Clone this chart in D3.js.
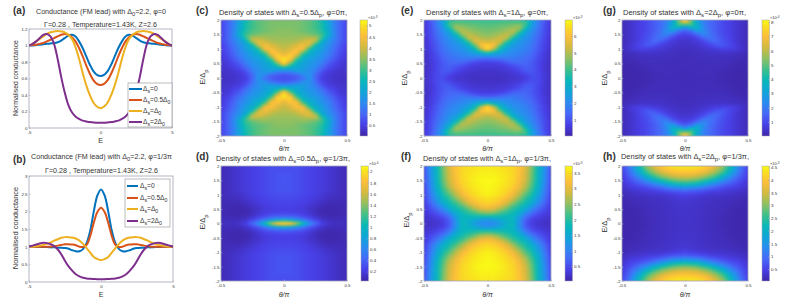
<!DOCTYPE html>
<html><head><meta charset="utf-8">
<script src="https://cdn.jsdelivr.net/npm/d3@7/dist/d3.min.js"></script>
<style>html,body{margin:0;padding:0;background:#fff}svg{display:block}text{font-family:"Liberation Sans",Arial,sans-serif;fill:#333}</style>
</head><body><svg id="c" width="795" height="300"></svg>
<script>
// ---------- DATA ----------
const energyHalf=[0,.25,.5,.75,1,1.25,1.5,1.75,2,2.25,2.5,2.75,3,3.25,3.5,3.75,4,4.25,4.5,4.75,5];
const condA0=[.63,.645,.69,.77,.87,.97,1.05,1.11,1.13,1.12,1.09,1.06,1.04,1.03,1.025,1.02,1.015,1.01,1.005,1,1];
const condA1=[.52,.535,.58,.66,.76,.87,.97,1.05,1.10,1.13,1.14,1.13,1.11,1.09,1.07,1.05,1.03,1.02,1.01,1.005,1];
const condA2=[.24,.26,.31,.40,.52,.67,.84,.98,1.08,1.13,1.16,1.17,1.175,1.17,1.16,1.14,1.11,1.08,1.05,1.02,1];
const condA3=[.065,.065,.068,.072,.08,.09,.11,.14,.19,.28,.43,.62,.84,1.02,1.11,1.14,1.13,1.09,1.05,1.02,1];
const condB0=[2.62,2.45,2.0,1.45,1.1,.93,.87,.87,.9,.94,.96,.97,.97,.98,.98,.99,.99,.995,1,1,1];
const condB1=[2.1,1.98,1.68,1.3,1.05,.99,1,1.04,1.06,1.07,1.07,1.05,1.03,1.01,1,1,1,1,1,1,1];
const condB2=[.62,.65,.71,.83,.96,1.08,1.17,1.23,1.26,1.27,1.27,1.25,1.21,1.17,1.12,1.08,1.05,1.03,1.01,1,1];
const condB3=[.08,.08,.085,.09,.10,.12,.16,.22,.32,.44,.60,.78,.92,1.02,1.07,1.10,1.11,1.09,1.06,1.03,1];
const legendA=[["Δ","s","=0"],["Δ","s","=0.5Δ","0"],["Δ","s","=Δ","0"],["Δ","s","=2Δ","0"]];
const lineColors=["#0072BD","#D95319","#EDB120","#7E2F8E"];
const thetaHalf=[0,.05,.1,.15,.2,.25,.3,.35,.4,.45,.5];
const energyRows=[2,1.875,1.75,1.625,1.5,1.375,1.25,1.125,1,.875,.75,.625,.5,.375,.25,.125,0];
const dosC=[
[3.4,3.4,3.4,3.3,3.2,3.0,2.6,2.0,1.4,.9,.6],
[3.4,3.4,3.4,3.3,3.2,3.0,2.7,2.1,1.4,.9,.6],
[3.4,3.4,3.4,3.3,3.2,3.0,2.7,2.1,1.4,.9,.6],
[3.5,3.5,3.4,3.3,3.2,3.1,2.8,2.2,1.4,.9,.6],
[3.5,3.5,3.5,3.5,3.4,3.2,3.0,2.3,1.5,.9,.6],
[3.6,3.6,3.6,3.7,3.8,3.9,3.0,1.9,1.4,.9,.6],
[3.7,3.7,3.8,4.0,4.3,3.7,2.2,1.7,1.3,.9,.6],
[3.8,3.9,4.1,4.5,4.0,2.5,2.0,1.6,1.2,.8,.5],
[3.9,4.1,4.5,4.4,2.9,2.2,1.9,1.5,1.1,.7,.5],
[4.1,4.4,4.7,3.2,2.4,2.0,1.7,1.4,1.0,.7,.4],
[4.5,4.9,3.8,2.5,2.1,1.9,1.6,1.3,.9,.6,.4],
[5.2,4.5,2.8,2.2,1.9,1.7,1.5,1.1,.8,.5,.4],
[4.8,3.3,2.3,2.0,1.8,1.6,1.3,.9,.6,.4,.3],
[2.8,2.4,2.1,1.9,1.7,1.5,1.1,.7,.5,.4,.3],
[1.6,1.7,1.9,1.8,1.6,1.3,.8,.5,.4,.3,.3],
[.8,.9,1.1,1.6,1.7,1.1,.6,.4,.3,.3,.25],
[.7,.7,.8,1.0,1.7,1.0,.5,.4,.3,.25,.2]];
const dosD=[
[.3,.3,.3,.28,.25,.22,.2,.17,.14,.1,.08],
[.3,.3,.3,.28,.25,.22,.2,.17,.14,.1,.08],
[.32,.32,.3,.28,.25,.22,.2,.17,.14,.1,.08],
[.33,.32,.3,.28,.25,.22,.2,.17,.14,.1,.08],
[.33,.32,.3,.28,.25,.22,.2,.17,.14,.1,.08],
[.33,.32,.3,.28,.25,.22,.2,.17,.14,.1,.08],
[.33,.32,.3,.28,.25,.22,.2,.17,.14,.1,.08],
[.32,.32,.3,.28,.25,.22,.2,.16,.13,.1,.08],
[.3,.3,.29,.27,.24,.21,.18,.14,.12,.1,.08],
[.28,.28,.27,.25,.22,.19,.16,.12,.1,.09,.07],
[.26,.26,.25,.23,.2,.16,.12,.09,.08,.08,.07],
[.24,.24,.23,.21,.17,.13,.09,.06,.06,.07,.07],
[.22,.22,.21,.19,.15,.1,.06,.05,.05,.06,.07],
[.25,.25,.24,.21,.16,.1,.06,.05,.05,.06,.07],
[.38,.37,.34,.29,.22,.14,.08,.06,.06,.07,.08],
[.85,.8,.68,.52,.36,.25,.15,.1,.09,.09,.09],
[2.05,1.95,1.6,1.1,.7,.45,.25,.15,.12,.1,.1]];
const dosE=[
[3.9,3.9,3.9,3.9,3.9,3.9,3.6,2.6,1.8,1.0,.5],
[4.1,4.1,4.2,4.2,4.3,4.3,4.1,2.6,1.7,1.0,.5],
[4.3,4.3,4.4,4.5,4.7,4.9,3.6,2.3,1.6,.9,.5],
[4.4,4.5,4.6,4.8,5.1,4.3,2.8,2.1,1.5,.9,.5],
[4.6,4.7,4.9,5.2,4.7,3.2,2.4,1.9,1.4,.9,.5],
[4.9,5.0,5.3,5.2,3.5,2.6,2.2,1.8,1.3,.8,.4],
[5.3,5.5,5.5,3.8,2.8,2.3,2.0,1.7,1.2,.8,.4],
[6.4,6.0,4.2,3.0,2.4,2.1,1.9,1.6,1.1,.7,.4],
[6.5,5.0,3.3,2.6,2.2,2.0,1.8,1.5,1.1,.7,.4],
[3.6,3.0,2.6,2.2,2.0,1.8,1.7,1.4,1.0,.6,.3],
[2.1,2.1,2.0,1.9,1.8,1.7,1.5,1.3,.9,.6,.3],
[1.0,1.1,1.3,1.5,1.6,1.5,1.4,1.2,.85,.55,.3],
[.65,.65,.7,.9,1.2,1.3,1.3,1.1,.8,.5,.3],
[.5,.5,.55,.6,.8,1.0,1.2,1.1,.8,.5,.3],
[.4,.4,.45,.5,.6,.8,1.1,1.1,.8,.5,.3],
[.35,.35,.35,.4,.5,.55,.8,1.0,.85,.55,.3],
[.3,.3,.3,.35,.4,.45,.55,.9,.85,.55,.3]];
const dosF=[
[3.6,3.6,3.55,3.5,3.45,3.25,2.95,2.4,1.75,1.2,.55],
[3.62,3.62,3.58,3.52,3.45,3.25,2.92,2.38,1.72,1.18,.52],
[3.65,3.65,3.6,3.55,3.45,3.25,2.9,2.35,1.7,1.15,.5],
[3.68,3.68,3.62,3.55,3.45,3.22,2.88,2.32,1.7,1.12,.5],
[3.7,3.7,3.65,3.55,3.45,3.2,2.85,2.3,1.7,1.1,.5],
[3.7,3.68,3.62,3.52,3.4,3.12,2.75,2.22,1.65,1.05,.48],
[3.7,3.65,3.6,3.5,3.35,3.05,2.65,2.15,1.6,1.0,.45],
[3.68,3.62,3.55,3.42,3.22,2.88,2.45,2.02,1.5,.95,.42],
[3.65,3.6,3.5,3.35,3.1,2.7,2.25,1.9,1.4,.9,.4],
[3.55,3.5,3.38,3.18,2.85,2.45,2.05,1.75,1.28,.82,.38],
[3.45,3.4,3.25,3.0,2.6,2.2,1.9,1.6,1.15,.75,.35],
[3.3,3.2,3.0,2.65,2.25,1.95,1.75,1.35,.95,.6,.32],
[3.0,2.9,2.6,2.3,2.0,1.8,1.5,1.05,.75,.5,.3],
[2.5,2.4,2.2,2.0,1.85,1.6,1.15,.8,.55,.4,.28],
[1.9,1.9,1.85,1.8,1.75,1.35,.85,.55,.4,.3,.25],
[1.2,1.3,1.5,1.7,1.75,1.2,.65,.4,.3,.25,.2],
[1.05,1.1,1.3,1.6,1.8,1.15,.6,.35,.25,.2,.18]];
const dosG=[
[8.0,5.0,3.0,2.1,1.6,1.3,1.0,.8,.6,.4,.25],
[5.5,5.0,3.2,2.1,1.6,1.3,1.0,.8,.6,.4,.25],
[2.8,3.8,3.6,2.2,1.6,1.3,1.0,.8,.6,.4,.25],
[1.4,1.8,2.9,2.4,1.7,1.3,1.0,.8,.6,.4,.25],
[.8,1.0,1.6,2.3,1.8,1.4,1.1,.8,.6,.4,.25],
[.6,.65,.9,1.5,1.9,1.5,1.1,.9,.6,.4,.25],
[.45,.5,.65,.9,1.4,1.6,1.2,.9,.6,.4,.25],
[.38,.4,.5,.65,.85,1.2,1.3,1.0,.7,.45,.25],
[.32,.35,.4,.5,.6,.7,.8,.8,.7,.5,.25],
[.28,.3,.33,.38,.42,.45,.45,.42,.35,.3,.2],
[.25,.27,.3,.33,.35,.35,.35,.32,.28,.22,.16],
[.24,.25,.27,.28,.3,.3,.3,.28,.2,.16,.12],
[.23,.24,.25,.26,.27,.27,.26,.22,.15,.12,.1],
[.22,.23,.24,.25,.25,.25,.22,.17,.12,.1,.08],
[.22,.22,.23,.24,.24,.22,.18,.14,.1,.08,.07],
[.21,.22,.22,.23,.22,.2,.15,.11,.09,.07,.06],
[.21,.21,.22,.22,.21,.18,.13,.1,.08,.07,.06]];
const dosH=[
[4.4,4.4,4.35,4.2,3.95,3.6,3.1,2.4,1.7,1.0,.5],
[4.2,4.2,4.1,4.0,3.7,3.3,2.85,2.2,1.55,.9,.5],
[3.9,3.9,3.8,3.6,3.3,2.95,2.5,1.9,1.35,.8,.45],
[3.5,3.45,3.35,3.1,2.85,2.45,2.0,1.5,1.05,.7,.4],
[2.95,2.9,2.75,2.5,2.2,1.85,1.45,1.1,.8,.55,.35],
[2.3,2.2,2.1,1.8,1.5,1.2,.95,.75,.6,.45,.3],
[1.5,1.4,1.3,1.1,.9,.75,.6,.5,.45,.35,.25],
[.8,.75,.7,.6,.5,.45,.4,.35,.3,.25,.2],
[.5,.45,.4,.35,.3,.3,.28,.25,.22,.18,.12],
[.36,.34,.3,.26,.24,.22,.2,.18,.16,.13,.1],
[.32,.3,.27,.24,.22,.2,.18,.16,.13,.11,.09],
[.3,.28,.26,.23,.21,.19,.17,.14,.11,.09,.08],
[.29,.27,.25,.22,.2,.18,.16,.12,.09,.08,.07],
[.28,.26,.24,.22,.2,.18,.15,.11,.08,.07,.07],
[.27,.26,.24,.22,.2,.17,.14,.1,.08,.07,.06],
[.27,.25,.23,.21,.19,.17,.13,.09,.07,.06,.06],
[.26,.25,.23,.21,.19,.16,.12,.09,.07,.06,.06]];
const paletteStops=[0,.1,.19,.29,.38,.48,.57,.67,.76,.86,.95,1];
const paletteColors=["#3e26a8","#4840e8","#4668f8","#2a8cf0","#10a5d8","#08b8b8","#3cc08c","#90c060","#d0ba40","#fcbe3a","#f9e020","#f9fb15"];
// ---------- PANELS ----------
const svg=d3.select("#c");
const defs=svg.append("defs");
const axisCol="#a4a4b8", txt="#333";
function rich(sel,parts,small){
  parts.forEach((p,i)=>{ if(p==="")return;
    const isSub=i%2===1;
    const t=sel.append("tspan").text(p);
    if(isSub){t.attr("dy",small*.35).attr("font-size",small*.8);}
    else if(i>0){t.attr("dy",-small*.35);}
  });
}
function title(x1,x2,y,parts,fs){
  const t=svg.append("text").attr("x",x1).attr("y",y).attr("font-size",fs).attr("fill",txt);
  rich(t,parts,fs);
  t.attr("textLength",x2-x1).attr("lengthAdjust","spacingAndGlyphs");
}
function panelLabel(x,y,s){svg.append("text").attr("x",x).attr("y",y).attr("font-size",10).attr("font-weight","bold").attr("font-family","'Open Sans',sans-serif").attr("fill","#222").text(s);}
function styleAxis(g){g.selectAll("path,line").attr("stroke",axisCol).attr("stroke-width",.6);g.selectAll("text").attr("font-size",4.4).attr("fill","#444");}
const fmt=d=>String(d);
function box(p){
  svg.append("rect").attr("x",p.x0).attr("y",p.y0).attr("width",p.x1-p.x0).attr("height",p.y1-p.y0).attr("fill","none").attr("stroke",axisCol).attr("stroke-width",.8);
}
function linePanel(p){
  const x=d3.scaleLinear().domain([-5,5]).range([p.x0,p.x1]);
  const y=d3.scaleLinear().domain(p.dom).range([p.y1,p.y0]);
  const energy=[...energyHalf.slice(1).reverse().map(d=>-d),...energyHalf];
  const clip="cl"+p.id;
  defs.append("clipPath").attr("id",clip).append("rect").attr("x",p.x0).attr("y",p.y0).attr("width",p.x1-p.x0).attr("height",p.y1-p.y0);
  const line=d3.line().x((d,i)=>x(energy[i])).y(d=>y(d)).curve(d3.curveCatmullRom);
  box(p);
  p.series.forEach((s,k)=>{
    const v=[...s.slice(1).reverse(),...s];
    svg.append("path").attr("clip-path",`url(#${clip})`).attr("d",line(v)).attr("fill","none").attr("stroke",lineColors[k]).attr("stroke-width",2);
  });
  const ax=svg.append("g").attr("transform",`translate(0,${p.y1})`).call(d3.axisBottom(x).tickValues([-5,0,5]).tickSize(-1.5).tickPadding(2.5).tickFormat(fmt));
  ax.select(".domain").remove();styleAxis(ax);
  const ay=svg.append("g").attr("transform",`translate(${p.x0},0)`).call(d3.axisLeft(y).tickValues(p.ticks).tickSize(-1.5).tickPadding(1.5).tickFormat(fmt));
  ay.select(".domain").remove();styleAxis(ay);
  svg.append("text").attr("x",(p.x0+p.x1)/2).attr("y",p.xlabY).attr("text-anchor","middle").attr("font-size",7).text("E");
  svg.append("text").attr("transform",`translate(${p.ylabX},${p.ylabC}) rotate(-90)`).attr("text-anchor","middle").attr("font-size",p.ylabFs).text("Normalised conductance");
  const L=p.legend;
  svg.append("rect").attr("x",L.x0).attr("y",L.y0).attr("width",L.x1-L.x0).attr("height",L.y1-L.y0).attr("fill","#fff").attr("stroke","#777").attr("stroke-width",.5);
  legendA.forEach((parts,k)=>{
    const yy=L.ys[k];
    svg.append("line").attr("x1",L.lx0).attr("x2",L.lx1).attr("y1",yy).attr("y2",yy).attr("stroke",lineColors[k]).attr("stroke-width",2);
    const t=svg.append("text").attr("x",L.tx).attr("y",yy+2).attr("font-size",6.6);
    rich(t,parts,6.6);
  });
}
function heat(p){
  const x=d3.scaleLinear().domain([-.5,.5]).range([p.x0,p.x1]);
  const y=d3.scaleLinear().domain([-2,2]).range([p.y1,p.y0]);
  const t=d3.scaleLinear().domain([p.min,p.max]).range([0,1]).clamp(true);
  const pal=d3.scaleLinear().domain(paletteStops).range(paletteColors);
  const c=v=>pal(t(v));
  const thetas=[...thetaHalf.slice(1).reverse().map(d=>-d),...thetaHalf];
  const rowsUp=[...energyRows.slice(0,-1).map(d=>-d),...energyRows.slice().reverse()];
  const gridDown=[...p.data,...p.data.slice(0,-1).reverse()].map(r=>[...r.slice(1).reverse(),...r]);
  const gridUp=gridDown.slice().reverse();
  const cl="hc"+p.id,fl="hf"+p.id;
  defs.append("clipPath").attr("id",cl).append("rect").attr("x",p.x0).attr("y",p.y0).attr("width",p.x1-p.x0).attr("height",p.y1-p.y0);
  defs.append("filter").attr("id",fl).attr("filterUnits","userSpaceOnUse").attr("x",p.x0-10).attr("y",p.y0-10).attr("width",p.x1-p.x0+20).attr("height",p.y1-p.y0+20)
    .attr("color-interpolation-filters","sRGB").append("feGaussianBlur").attr("stdDeviation",p.blur||"1.1 .9");
  const outer=svg.append("g").attr("clip-path",`url(#${cl})`);
  const g=outer.append("g").attr("filter",`url(#${fl})`).attr("shape-rendering","crispEdges");
  // surface shaded across each grid cell, like MATLAB "shading interp"
  const step=2, pad=6;
  const sample=(th,en)=>{
    th=Math.max(-.5,Math.min(.5,th));en=Math.max(-2,Math.min(2,en));
    let i=Math.min(thetas.length-2,Math.max(0,d3.bisectRight(thetas,th)-1));
    let j=Math.min(rowsUp.length-2,Math.max(0,d3.bisectRight(rowsUp,en)-1));
    const u=(th-thetas[i])/(thetas[i+1]-thetas[i]),w=(en-rowsUp[j])/(rowsUp[j+1]-rowsUp[j]);
    const a=d3.interpolateNumber(gridUp[j][i],gridUp[j][i+1])(u),b=d3.interpolateNumber(gridUp[j+1][i],gridUp[j+1][i+1])(u);
    return d3.interpolateNumber(a,b)(w);
  };
  for(let px=p.x0-pad;px<p.x1+pad;px+=step)for(let py=p.y0-pad;py<p.y1+pad;py+=step){
    g.append("rect").attr("x",px).attr("y",py).attr("width",step).attr("height",step).attr("fill",c(sample(x.invert(px+step/2),y.invert(py+step/2))));
  }
  box(p);
  const ax=svg.append("g").attr("transform",`translate(0,${p.y1})`).call(d3.axisBottom(x).tickValues([-.5,0,.5]).tickSize(-1.5).tickPadding(3).tickFormat(fmt));
  ax.select(".domain").remove();styleAxis(ax);
  const ay=svg.append("g").attr("transform",`translate(${p.x0},0)`).call(d3.axisLeft(y).tickValues([-2,-1.5,-1,-.5,0,.5,1,1.5,2]).tickSize(-1.5).tickPadding(1.5).tickFormat(fmt));
  ay.select(".domain").remove();styleAxis(ay);
  const gid="cb"+p.id;
  const gr=defs.append("linearGradient").attr("id",gid).attr("x1",0).attr("x2",0).attr("y1",1).attr("y2",0);
  paletteColors.forEach((col,i)=>gr.append("stop").attr("offset",paletteStops[i]).attr("stop-color",col));
  const cy=d3.scaleLinear().domain([p.min,p.max]).range([p.y1,p.y0]);
  svg.append("rect").attr("x",p.cx).attr("y",p.y0).attr("width",7.5).attr("height",p.y1-p.y0).attr("fill",`url(#${gid})`).attr("stroke",axisCol).attr("stroke-width",.5);
  const cb=svg.append("g").attr("transform",`translate(${p.cx+7.5},0)`).call(d3.axisRight(cy).tickValues(p.ticks).tickSize(-1.5).tickPadding(1.5).tickFormat(fmt));
  cb.select(".domain").remove();styleAxis(cb);
  const ex=svg.append("text").attr("x",p.cx+8).attr("y",p.y0-1).attr("font-size",4).attr("fill","#444");
  ex.append("tspan").text("×10");ex.append("tspan").attr("dy",-1.2).attr("font-size",3).text(p.exp);
  const yl=svg.append("text").attr("transform",`translate(${p.ylabX},${p.ylabC}) rotate(-90)`).attr("text-anchor","middle").attr("font-size",7.4);
  rich(yl,["E/Δ","p"],7.4);
  svg.append("text").attr("x",(p.x0+p.x1)/2).attr("y",p.xlabY).attr("text-anchor","middle").attr("font-size",7.2).attr("font-family","'DejaVu Serif',serif").attr("font-style","italic").text("θ/π");
}
heat({id:"c",x0:221,x1:347,y0:20,y1:136,cx:360,min:.02,max:5.25,ticks:[.5,1,1.5,2,2.5,3,3.5,4,4.5,5],exp:"-3",data:dosC,ylabX:205,ylabC:77,xlabY:151});
heat({id:"d",x0:221,x1:347,y0:166,y1:281,cx:361,min:.03,max:2.1,ticks:[.2,.4,.6,.8,1,1.2,1.4,1.6,1.8,2],exp:"-4",data:dosD,ylabX:205,ylabC:222,xlabY:297});
heat({id:"e",x0:424,x1:551,y0:20,y1:136,cx:565,min:.02,max:6.95,ticks:[1,2,3,4,5,6],exp:"-3",data:dosE,ylabX:407,ylabC:78,xlabY:151});
heat({id:"f",x0:424,x1:551,y0:166,y1:281,cx:565,min:.03,max:3.72,ticks:[.5,1,1.5,2,2.5,3,3.5],exp:"-3",data:dosF,ylabX:409,ylabC:220,xlabY:297});
heat({id:"g",x0:622,x1:748,y0:20,y1:136,cx:762,min:.02,max:8.15,ticks:[1,2,3,4,5,6,7,8],exp:"-4",data:dosG,ylabX:607,ylabC:78,xlabY:151});
heat({id:"h",x0:622,x1:748,y0:166,y1:281,cx:762,min:.03,max:4.55,ticks:[.5,1,1.5,2,2.5,3,3.5,4,4.5],exp:"-3",data:dosH,ylabX:607,ylabC:225,xlabY:297});
linePanel({id:"a",x0:29,x1:172,y0:29,y1:128,dom:[0,1.2],ticks:[0,.2,.4,.6,.8,1,1.2],series:[condA0,condA1,condA2,condA3],xlabY:143,ylabX:18,ylabC:78,ylabFs:6.9,
  legend:{x0:128,x1:172,y0:83,y1:127,lx0:129,lx1:142,tx:143,ys:[89,100,111,122]}});
linePanel({id:"b",x0:29,x1:173,y0:176,y1:282,dom:[0,3],ticks:[0,.5,1,1.5,2,2.5,3],series:[condB0,condB1,condB2,condB3],xlabY:297,ylabX:18,ylabC:228,ylabFs:7.5,
  legend:{x0:125,x1:170,y0:179,y1:227,lx0:127,lx1:138,tx:140,ys:[186,198,209,221]}});
title(36,166,14,["Conductance (FM lead) with Δ","0","=2.2, φ=0"],6.9);
title(44,157,27,["Γ=0.28 , Temperature=1.43K, Z=2.6"],6.7);
title(31,172,159,["Conductance (FM lead) with Δ","0","=2.2, φ=1/3π"],6.9);
title(45,158,173,["Γ=0.28 , Temperature=1.43K, Z=2.6"],6.7);
title(219,347,15,["Density of states with Δ","s","=0.5Δ","p",", φ=0π,"],6.9);
title(216,350,161,["Density of states with Δ","s","=0.5Δ","p",", φ=1/3π,"],6.9);
title(426,548,15,["Density of states with Δ","s","=1Δ","p",", φ=0π,"],6.9);
title(423,551,161,["Density of states with Δ","s","=1Δ","p",", φ=1/3π,"],6.9);
title(623,746,15,["Density of states with Δ","s","=2Δ","p",", φ=0π,"],6.9);
title(621,749,159,["Density of states with Δ","s","=2Δ","p",", φ=1/3π,"],6.9);
[[13,14,"(a)"],[13,163,"(b)"],[196,14,"(c)"],[196,160,"(d)"],[401,14,"(e)"],[401,160,"(f)"],[603,14,"(g)"],[603,160,"(h)"]].forEach(a=>panelLabel(...a));
</script></body></html>
